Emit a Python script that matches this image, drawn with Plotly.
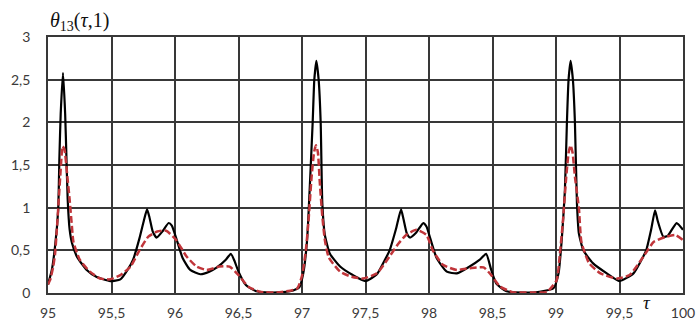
import plotly.graph_objects as go

# Solid curve
tau_black = [
    95.00, 95.03, 95.055, 95.08, 95.09, 95.10, 95.118, 95.135, 95.145, 95.155,
    95.17, 95.19, 95.23, 95.305, 95.38, 95.49, 95.57, 95.63, 95.67, 95.72,
    95.755, 95.78, 95.80, 95.825, 95.855, 95.90, 95.95, 95.975, 96.01, 96.06,
    96.12, 96.20, 96.27, 96.33, 96.40, 96.44, 96.47, 96.50, 96.56, 96.64,
    96.75, 96.85, 96.93, 96.98, 97.01, 97.04, 97.06, 97.084, 97.097, 97.113,
    97.131, 97.147, 97.16, 97.18, 97.22, 97.30, 97.40, 97.50, 97.59, 97.65,
    97.69, 97.74, 97.78, 97.80, 97.825, 97.85, 97.90, 97.955, 97.98, 98.01,
    98.06, 98.14, 98.22, 98.32, 98.40, 98.45, 98.49, 98.53, 98.61, 98.75,
    98.87, 98.98, 99.02, 99.045, 99.07, 99.086, 99.099, 99.115, 99.133, 99.149,
    99.165, 99.18, 99.215, 99.29, 99.40, 99.50, 99.61, 99.67, 99.71, 99.75,
    99.78, 99.80, 99.845, 99.88, 99.95, 100.0,
]
theta_black = [
    0.10, 0.27, 0.54, 0.97, 1.60, 2.10, 2.58, 2.10, 1.60, 1.10,
    0.75, 0.58, 0.42, 0.27, 0.19, 0.14, 0.16, 0.28, 0.39, 0.64,
    0.85, 0.98, 0.88, 0.72, 0.65, 0.72, 0.82, 0.79, 0.64, 0.41,
    0.27, 0.22, 0.25, 0.30, 0.39, 0.46, 0.37, 0.25, 0.09, 0.02,
    0.005, 0.01, 0.03, 0.07, 0.23, 0.62, 1.20, 2.00, 2.50, 2.72,
    2.50, 2.00, 1.05, 0.68, 0.46, 0.31, 0.21, 0.14, 0.22, 0.38,
    0.50, 0.75, 0.98, 0.86, 0.70, 0.65, 0.71, 0.82, 0.78, 0.64,
    0.41, 0.25, 0.23, 0.31, 0.39, 0.46, 0.27, 0.11, 0.02, 0.005,
    0.015, 0.055, 0.23, 0.62, 1.20, 2.00, 2.50, 2.72, 2.50, 2.00,
    1.05, 0.70, 0.50, 0.35, 0.23, 0.14, 0.23, 0.38, 0.50, 0.75,
    0.97, 0.85, 0.66, 0.67, 0.82, 0.74,
]

# Dashed curve
tau_red = [
    95.00, 95.016, 95.04, 95.055, 95.07, 95.085, 95.10, 95.115, 95.13, 95.15,
    95.17, 95.19, 95.20, 95.25, 95.33, 95.41, 95.49, 95.57, 95.65, 95.72,
    95.79, 95.86, 95.93, 96.01, 96.09, 96.17, 96.25, 96.35, 96.43, 96.50,
    96.58, 96.67, 96.80, 96.96, 97.00, 97.03, 97.05, 97.075, 97.095, 97.11,
    97.125, 97.14, 97.16, 97.18, 97.21, 97.30, 97.39, 97.48, 97.59, 97.69,
    97.76, 97.82, 97.90, 97.98, 98.03, 98.11, 98.22, 98.32, 98.43, 98.49,
    98.56, 98.66, 98.80, 98.93, 99.005, 99.03, 99.055, 99.08, 99.10, 99.115,
    99.13, 99.15, 99.18, 99.20, 99.26, 99.35, 99.48, 99.58, 99.69, 99.77,
    99.87, 99.94, 100.0,
]
theta_red = [
    0.10, 0.15, 0.30, 0.45, 0.75, 1.10, 1.45, 1.72, 1.68, 1.40,
    1.10, 0.75, 0.60, 0.39, 0.25, 0.17, 0.16, 0.21, 0.31, 0.50,
    0.66, 0.72, 0.73, 0.62, 0.43, 0.31, 0.27, 0.31, 0.31, 0.21,
    0.07, 0.015, 0.005, 0.05, 0.20, 0.50, 0.82, 1.35, 1.65, 1.73,
    1.65, 1.30, 0.90, 0.62, 0.42, 0.25, 0.19, 0.17, 0.23, 0.43,
    0.58, 0.68, 0.74, 0.68, 0.50, 0.33, 0.27, 0.29, 0.30, 0.21,
    0.075, 0.01, 0.005, 0.015, 0.15, 0.45, 0.85, 1.35, 1.65, 1.73,
    1.65, 1.35, 1.00, 0.60, 0.35, 0.23, 0.17, 0.21, 0.43, 0.60,
    0.66, 0.68, 0.62,
]

x_ticks = [95, 95.5, 96, 96.5, 97, 97.5, 98, 98.5, 99, 99.5, 100]
x_tick_text = ["95", "95,5", "96", "96,5", "97", "97,5", "98", "98,5", "99", "99,5", "100"]
y_ticks = [0, 0.5, 1, 1.5, 2, 2.5, 3]
y_tick_text = ["0", "0,5", "1", "1,5", "2", "2,5", "3"]

grid_color = "#383838"
tick_font = dict(family="Lato, Open Sans, sans-serif", size=14, color="#3a3a3a")

fig = go.Figure()
fig.add_trace(go.Scatter(
    x=tau_black, y=theta_black, mode="lines",
    line=dict(color="#000000", width=2.2, shape="spline", smoothing=0.5),
    showlegend=False,
))
fig.add_trace(go.Scatter(
    x=tau_red, y=theta_red, mode="lines",
    line=dict(color="#c0353a", width=2.5, dash="7px,3px", shape="spline", smoothing=0.5),
    showlegend=False,
))

fig.update_layout(
    width=696, height=322,
    margin=dict(l=48, r=13, t=37, b=29),
    paper_bgcolor="white", plot_bgcolor="white",
    xaxis=dict(
        range=[95, 100], tickvals=x_ticks, ticktext=x_tick_text,
        showgrid=True, gridcolor=grid_color, gridwidth=1.6,
        showline=True, linecolor=grid_color, linewidth=1.6, mirror=True,
        ticks="", ticklabelstandoff=6, automargin=False,
        tickfont=tick_font, zeroline=False,
    ),
    yaxis=dict(
        range=[0, 3], tickvals=y_ticks, ticktext=y_tick_text,
        showgrid=True, gridcolor=grid_color, gridwidth=1.6,
        showline=True, linecolor=grid_color, linewidth=1.6, mirror=True,
        ticks="", ticklabelstandoff=13, automargin=False,
        tickfont=tick_font, zeroline=False,
    ),
    annotations=[
        dict(
            text="<i>θ</i><sub>13</sub>(<i>τ</i>,1)",
            xref="paper", yref="paper", x=0, y=1, xanchor="left", yanchor="bottom",
            yshift=1, showarrow=False,
            font=dict(family="Liberation Serif, Times New Roman, serif", size=20, color="#111111"),
        ),
        dict(
            text="<i>τ</i>",
            xref="x", yref="paper", x=99.72, y=0, xanchor="center", yanchor="middle",
            yshift=-9, showarrow=False,
            font=dict(family="Liberation Serif, Times New Roman, serif", size=19, color="#111111"),
        ),
    ],
)

fig.write_html("out.html")
